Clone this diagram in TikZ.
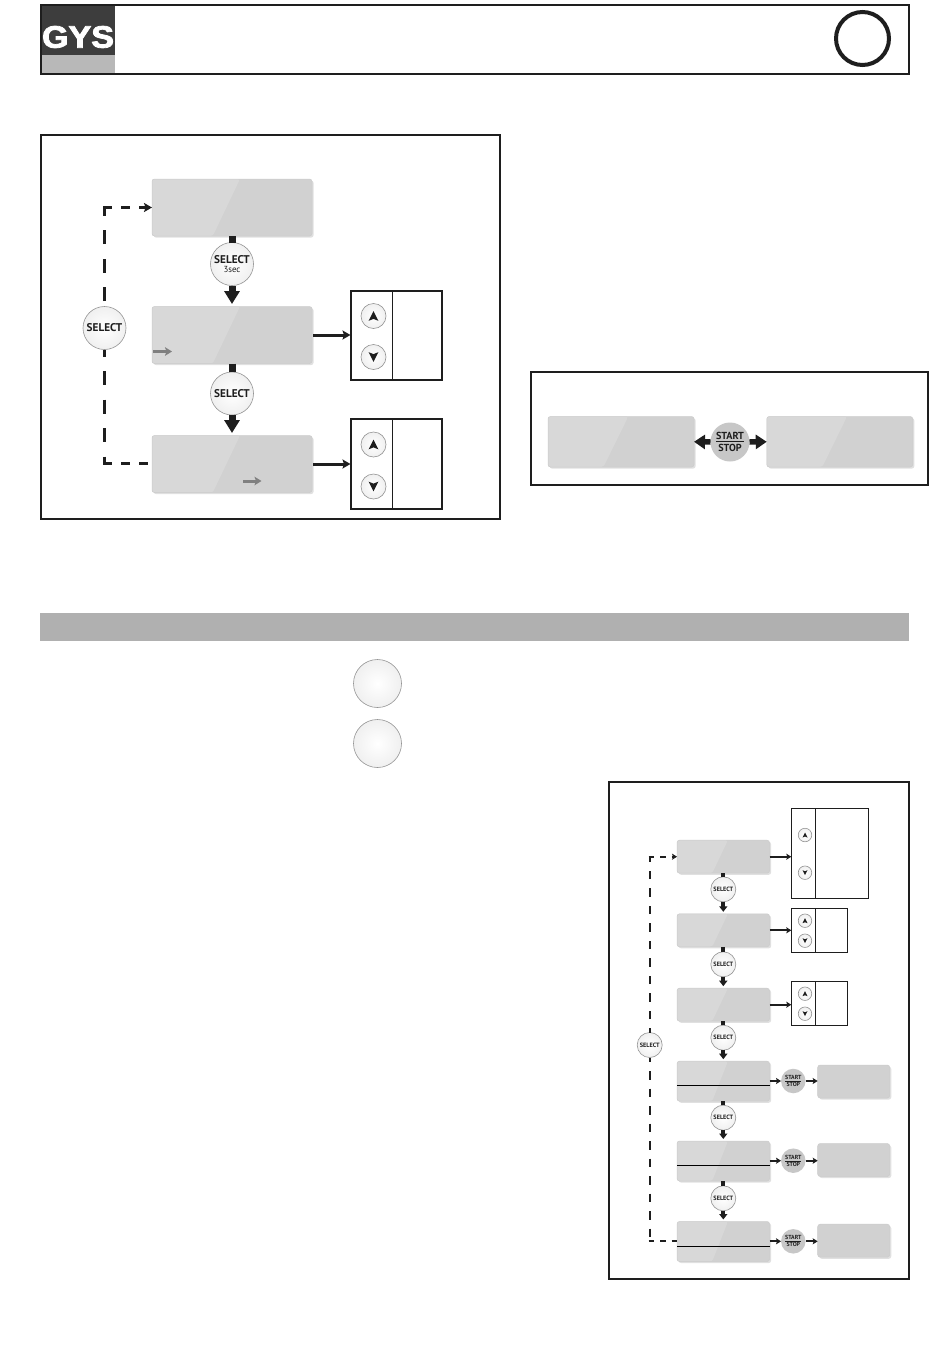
\documentclass[tikz,border=0pt]{standalone}
\usepackage{fontspec}
\setsansfont{PT Sans}
\newfontfamily\logofont[FakeBold=2.5]{Liberation Sans}
\usetikzlibrary{calc,arrows.meta,shadows}
\definecolor{lcdlight}{HTML}{D8D8D8}
\definecolor{lcddark}{HTML}{D1D1D1}
\definecolor{barcol}{HTML}{B0B0B0}
\definecolor{inkcol}{HTML}{1E1E1E}
\def\btnmark(#1)#2{\fill[inkcol] ($(#1)+(0,{-1*#2})$) -- ($(#1)+({abs(#2)},#2)$) -- ($(#1)+(0,{.6*#2})$) -- ($(#1)+({-abs(#2)},#2)$) -- cycle;}
\tikzset{
	boxline/.style={draw=inkcol,line width=2pt},
	lcdplain/.style 2 args={rectangle,rounded corners=2.5pt,minimum width=#1,minimum height=#2,inner sep=0,outer sep=0,fill=lcddark,draw=black!20,line width=.5pt,
		drop shadow={shadow xshift=1.6pt,shadow yshift=-1.6pt,fill=black,opacity=.12}},
	lcdscreen/.style 2 args={lcdplain={#1}{#2},
		path picture={\fill[lcdlight] (path picture bounding box.north west) -- ($(path picture bounding box.north west)!.55!(path picture bounding box.north east)$) -- ($(path picture bounding box.south west)!.38!(path picture bounding box.south east)$) -- (path picture bounding box.south west) -- cycle;}},
	roundbtn/.style={circle,inner sep=0,outer sep=0,minimum size=#1,draw=black!42,line width=.6pt,inner color=white,outer color=black!6},
	selbig/.style={roundbtn=43pt,text=inkcol,font=\sffamily\bfseries\fontsize{11.2}{10.5}\selectfont,align=center},
	selsmall/.style={roundbtn=25pt,text=inkcol,font=\sffamily\bfseries\fontsize{6.2}{7}\selectfont},
	arrbig/.style={roundbtn=25pt},
	arrsmall/.style={roundbtn=13.5pt},
	stopbig/.style={circle,inner sep=0,outer sep=0,minimum size=39pt,fill=black!22,text=inkcol,align=center,font=\sffamily\bfseries\fontsize{10.2}{11.8}\selectfont},
	stopsmall/.style={circle,inner sep=0,outer sep=0,minimum size=24.5pt,fill=black!22,text=inkcol,align=center,font=\sffamily\bfseries\fontsize{5.9}{6.8}\selectfont},
	tabbox/.style 2 args={rectangle,draw=inkcol,inner sep=0,outer sep=0,minimum width=#1,minimum height=#2},
	stembig/.style={draw=inkcol,line width=7pt},
	stemsmall/.style={draw=inkcol,line width=4pt},
	downbig/.style={draw=inkcol,line width=7pt,-{Triangle[width=15pt,length=13pt]},shorten >=2.5pt},
	downsmall/.style={draw=inkcol,line width=4pt,-{Triangle[width=8pt,length=5.5pt]},shorten >=2pt},
	sidebig/.style={draw=inkcol,line width=3pt,-{Stealth[width=9pt,length=8pt,inset=1.5pt]}},
	sidesmall/.style={draw=inkcol,line width=2pt,-{Stealth[width=6pt,length=5pt,inset=1pt]}},
	dashbig/.style={draw=inkcol,line width=3pt,dash pattern=on 14pt off 14.5pt},
	dashflat/.style={draw=inkcol,line width=3pt,dash pattern=on 9pt off 9pt},
	dashsmall/.style={draw=inkcol,line width=2pt,dash pattern=on 8.5pt off 9pt},
	dashshort/.style={draw=inkcol,line width=2pt,dash pattern=on 5.5pt off 6pt},
	hintarrow/.style={draw=black!50,line width=3pt,-{Stealth[width=8.5pt,length=7pt,inset=1.5pt]}},
}

\begin{document}
\begin{tikzpicture}[x=1pt,y=-1pt]
	%%%%% PAGE %%%%%
	\fill[white] (0,0) rectangle (950,1360);
	\useasboundingbox (0,0) rectangle (950,1360);

	%%%%% HEADER %%%%%
	\fill[black!76] (41,5) rectangle (115,55);
	\fill[black!28] (41,55) rectangle (115,74);
	\draw[boxline] (40.5,5) rectangle (909,74);
	\node[text=white,font=\logofont\bfseries\fontsize{31}{31}\selectfont,xscale=1.1,transform shape,inner sep=0] (logo) at (78,37) {GYS};
	\draw[inkcol,line width=4pt] (862.5,38.5) circle (26.5);

	%%%%% FIRST PANEL %%%%%
	\draw[boxline] (41,135) rectangle (500,519);

	\node[lcdscreen={160pt}{57pt}] (lcdA) at (232,207.5) {};
	\node[lcdscreen={160pt}{57pt}] (lcdB) at (232,335) {};
	\node[lcdscreen={160pt}{57pt}] (lcdC) at (232,464) {};

	\node[selbig] (selA) at (232,264) {SELECT\\[-2pt]{\fontsize{8.8}{8}\selectfont\mdseries 3sec}};
	\node[selbig] (selB) at (232,393.5) {SELECT};
	\node[selbig] (selBack) at (104.5,328) {SELECT};

	\node[tabbox={91.5pt}{89pt},line width=2pt] (tabA) at (396.25,335.5) {};
	\node[tabbox={91.5pt}{90pt},line width=2pt] (tabB) at (396.25,464) {};
	\draw[inkcol,line width=1.2pt] ($(tabA.north west)+(41.8,0)$) -- ($(tabA.south west)+(41.8,0)$);
	\draw[inkcol,line width=1.2pt] ($(tabB.north west)+(41.8,0)$) -- ($(tabB.south west)+(41.8,0)$);

	\node[arrbig] (upA) at (373.5,316) {};
	\node[arrbig] (dnA) at (373.5,357) {};
	\node[arrbig] (upB) at (373.5,444.5) {};
	\node[arrbig] (dnB) at (373.5,486.5) {};
	\btnmark(upA){4.8}
	\btnmark(dnA){-4.8}
	\btnmark(upB){4.8}
	\btnmark(dnB){-4.8}

	\draw[stembig] (lcdA.south) -- (selA.north);
	\draw[downbig] (selA.south) -- (lcdB.north);
	\draw[stembig] (lcdB.south) -- (selB.north);
	\draw[downbig] (selB.south) -- (lcdC.north);
	\draw[sidebig] (lcdB.east -| 313,335) -- (lcdB.east -| tabA.west);
	\draw[sidebig] (lcdC.east -| 313,464) -- (lcdC.east -| tabB.west);

	\coordinate (cornerA) at (104.5,207.5);
	\coordinate (cornerB) at (104.5,463.5);
	\draw[dashbig,dash phase=23pt] (selBack.north) -- (cornerA);
	\draw[dashflat,-{Stealth[width=9pt,length=8pt,inset=1.5pt]}] (cornerA) ++(-1.5,0) -- (lcdA.west);
	\draw[dashbig,dash phase=7pt] (selBack.south) -- (cornerB);
	\draw[dashflat] (cornerB) ++(-1.5,0) -- (lcdC.west |- cornerB);

	\coordinate (hintA) at (153,351.5);
	\coordinate (hintB) at (243,481);
	\draw[hintarrow] (hintA) -- ++(19,0);
	\draw[hintarrow] (hintB) -- ++(18.5,0);

	%%%%% SECOND PANEL %%%%%
	\draw[boxline] (531,371.5) rectangle (928,484.5);

	\node[lcdscreen={146pt}{50.5pt}] (lcdOff) at (621,441.75) {};
	\node[lcdscreen={146pt}{50.5pt}] (lcdOn) at (839.75,441.75) {};
	\node[stopbig] (stopMain) at (730,442) {\underline{START}\\STOP};
	\draw[inkcol,line width=5.5pt,-{Triangle[width=14pt,length=11pt]}] (stopMain.west) -- (lcdOff.east);
	\draw[inkcol,line width=5.5pt,-{Triangle[width=14pt,length=11pt]}] (stopMain.east) -- (lcdOn.west);

	%%%%% GREY BAR %%%%%
	\fill[barcol] (40,613) rectangle (909,641);
	\node[roundbtn=48pt] (bigOne) at (377.5,683.5) {};
	\node[roundbtn=48pt] (bigTwo) at (377.5,743.5) {};

	%%%%% THIRD PANEL %%%%%
	\draw[boxline] (609,782) rectangle (909,1279);

	\node[lcdscreen={92.5pt}{33pt}] (menuA) at (723.3,856.7) {};
	\node[lcdscreen={92.5pt}{33pt}] (menuB) at (723.3,930.3) {};
	\node[lcdscreen={92.5pt}{33pt}] (menuC) at (723.3,1004.7) {};
	\node[lcdscreen={92.5pt}{40pt}] (menuD) at (723.3,1081.2) {};
	\node[lcdscreen={92.5pt}{40pt}] (menuE) at (723.3,1161) {};
	\node[lcdscreen={92.5pt}{40pt}] (menuF) at (723.3,1241.5) {};

	\draw[black,line width=1pt] (menuD.west |- 0,1085.3) -- (menuD.east |- 0,1085.3);
	\draw[black,line width=1pt] (menuE.west |- 0,1165.3) -- (menuE.east |- 0,1165.3);
	\draw[black,line width=1pt] (menuF.west |- 0,1246.3) -- (menuF.east |- 0,1246.3);

	\node[selsmall] (pickA) at (723.3,889.3) {SELECT};
	\node[selsmall] (pickB) at (723.3,964.3) {SELECT};
	\node[selsmall] (pickC) at (723.3,1037.7) {SELECT};
	\node[selsmall] (pickD) at (723.3,1117.7) {SELECT};
	\node[selsmall] (pickE) at (723.3,1198.3) {SELECT};
	\node[selsmall] (pickBack) at (649.7,1045) {SELECT};

	\node[tabbox={77.4pt}{90pt},line width=1.2pt] (setA) at (830,853.3) {};
	\node[tabbox={56.4pt}{44pt},line width=1.2pt] (setB) at (819.5,930.3) {};
	\node[tabbox={56.4pt}{44.4pt},line width=1.2pt] (setC) at (819.5,1003.5) {};
	\draw[inkcol,line width=1.2pt] ($(setA.north west)+(24,0)$) -- ($(setA.south west)+(24,0)$);
	\draw[inkcol,line width=1.2pt] ($(setB.north west)+(24,0)$) -- ($(setB.south west)+(24,0)$);
	\draw[inkcol,line width=1.2pt] ($(setC.north west)+(24,0)$) -- ($(setC.south west)+(24,0)$);

	\node[arrsmall] (upC) at (805,835) {};
	\node[arrsmall] (dnC) at (805,872.7) {};
	\node[arrsmall] (upD) at (805,920.7) {};
	\node[arrsmall] (dnD) at (805,940.7) {};
	\node[arrsmall] (upE) at (805,993.7) {};
	\node[arrsmall] (dnE) at (805,1013.7) {};
	\btnmark(upC){2.5}
	\btnmark(dnC){-2.5}
	\btnmark(upD){2.5}
	\btnmark(dnD){-2.5}
	\btnmark(upE){2.5}
	\btnmark(dnE){-2.5}

	\node[stopsmall] (stopD) at (793.3,1081) {\underline{START}\\STOP};
	\node[stopsmall] (stopE) at (793.3,1160.7) {\underline{START}\\STOP};
	\node[stopsmall] (stopF) at (793.3,1241.3) {\underline{START}\\STOP};
	\node[lcdplain={72pt}{33pt}] (resD) at (853.7,1081.5) {};
	\node[lcdplain={72pt}{33pt}] (resE) at (853.7,1160) {};
	\node[lcdplain={72pt}{33pt}] (resF) at (853.7,1240.7) {};

	\draw[stemsmall] (menuA.south) -- (pickA.north);
	\draw[stemsmall] (menuB.south) -- (pickB.north);
	\draw[stemsmall] (menuC.south) -- (pickC.north);
	\draw[stemsmall] (menuD.south) -- (pickD.north);
	\draw[stemsmall] (menuE.south) -- (pickE.north);
	\draw[downsmall] (pickA.south) -- (menuB.north);
	\draw[downsmall] (pickB.south) -- (menuC.north);
	\draw[downsmall] (pickC.south) -- (menuD.north);
	\draw[downsmall] (pickD.south) -- (menuE.north);
	\draw[downsmall] (pickE.south) -- (menuF.north);

	\draw[sidesmall] (menuA.east) -- (menuA.east -| setA.west);
	\draw[sidesmall] (menuB.east) -- (menuB.east -| setB.west);
	\draw[sidesmall] (menuC.east) -- (menuC.east -| setC.west);
	\draw[sidesmall] (stopD.west -| menuD.east) -- (stopD.west);
	\draw[sidesmall] (stopE.west -| menuE.east) -- (stopE.west);
	\draw[sidesmall] (stopF.west -| menuF.east) -- (stopF.west);
	\draw[sidesmall] (stopD.east) -- (stopD.east -| resD.west);
	\draw[sidesmall] (stopE.east) -- (stopE.east -| resE.west);
	\draw[sidesmall] (stopF.east) -- (stopF.east -| resF.west);

	\coordinate (cornerC) at (649.7,856.7);
	\coordinate (cornerD) at (649.7,1240.5);
	\draw[dashsmall,dash phase=4pt] (pickBack.north) -- (cornerC);
	\draw[dashshort,-{Stealth[width=6pt,length=5pt,inset=1pt]}] (cornerC) ++(-1,0) -- (menuA.west);
	\draw[dashsmall,dash phase=4pt] (pickBack.south) -- (cornerD);
	\draw[dashshort] (cornerD) ++(-1,0) -- (menuF.west |- cornerD);
\end{tikzpicture}
\end{document}
